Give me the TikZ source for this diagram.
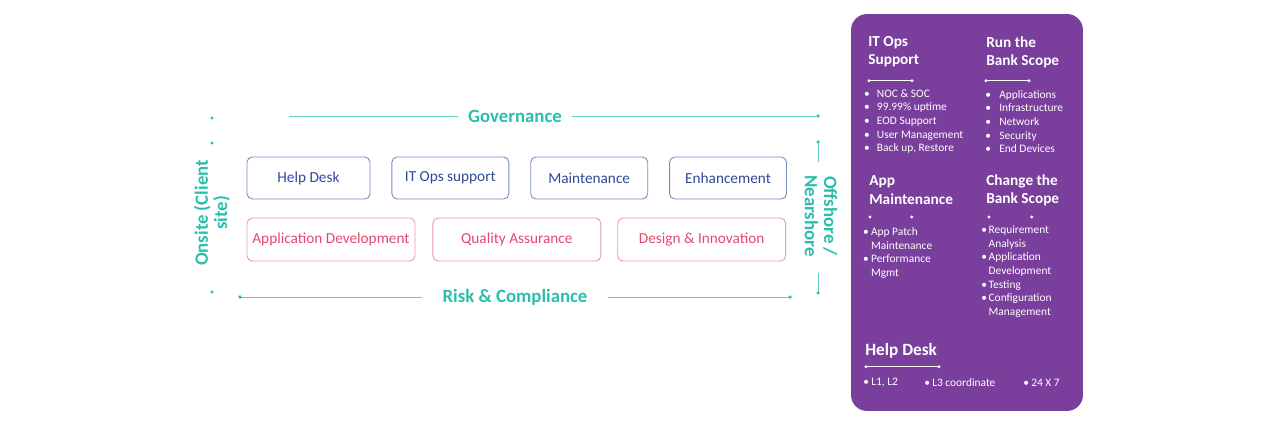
\documentclass[tikz,border=0pt]{standalone}
\usepackage{fontspec}
\setmainfont{Carlito}
\usetikzlibrary{positioning}
\definecolor{tealc}{RGB}{43,190,171}
\definecolor{bluet}{RGB}{46,72,150}
\definecolor{blueb}{RGB}{120,138,196}
\definecolor{redt}{RGB}{228,72,108}
\definecolor{redb}{RGB}{238,150,170}
\definecolor{purp}{RGB}{122,62,157}
\newcommand{\itm}[2][7.3pt]{\makebox[#1][l]{\textbullet}#2}

\begin{document}
\begin{tikzpicture}[x=0.02cm,y=-0.02cm,
  blubox/.style={draw=blueb,text=bluet,line width=0.5pt,rounded corners=3pt,minimum width=2.34cm,minimum height=0.84cm,inner sep=2pt,font=\fontsize{8.7}{10}\selectfont},
  redbox/.style={draw=redb,text=redt,line width=0.5pt,rounded corners=3pt,minimum width=3.36cm,minimum height=0.86cm,inner sep=2pt,font=\fontsize{8.7}{10}\selectfont},
  frtxt/.style={text=tealc,font=\fontsize{10.7}{11}\selectfont\bfseries,inner ysep=2pt},
  frline/.style={draw=tealc!75,line width=0.45pt},
  panel/.style={fill=purp,rounded corners=0.32cm,minimum width=4.64cm,minimum height=7.94cm},
  phead/.style={text=white,anchor=west,align=left,inner sep=0pt,font=\fontsize{8.7}{10.4}\selectfont\bfseries},
  plist/.style={text=white,anchor=west,align=left,inner sep=0pt,font=\fontsize{6.5}{7.8}\selectfont},
  sepline/.style={draw=white,line width=0.4pt}]
\useasboundingbox (0,0) rectangle (1281,435);

% left side: services
\node[blubox,minimum width=2.46cm] (hd) at (308.5,178) {Help Desk};
\node[blubox,right=0.42cm of hd] (ops) {IT Ops support};
\node[blubox,right=0.42cm of ops] (mnt) {Maintenance};
\node[blubox,right=0.42cm of mnt] (enh) {Enhancement};
\node[redbox] (ad) at (331,239.5) {Application Development};
\node[redbox,right=0.34cm of ad] (qa) {Quality Assurance};
\node[redbox,right=0.32cm of qa] (di) {Design \& Innovation};

% frame
\node[frtxt,inner xsep=0.2cm] (gov) at (515,116) {Governance};
\node[frtxt,inner xsep=0.4cm] (risk) at (515,297) {Risk \& Compliance};
\node[frtxt,rotate=90,align=center] (onsite) at (212,213) {Onsite (Client\\site)};
\node[frtxt,rotate=-90,align=center] (off) at (821,216) {Offshore /\\Nearshore};
\coordinate (gl) at (289,116); \coordinate (gr) at (818,116);
\coordinate (rl) at (240,297); \coordinate (rr) at (790,297);
\coordinate (ot) at (818,142); \coordinate (ob) at (818,293);
\draw[frline] (gl)--(gov); \draw[frline] (gov)--(gr);
\draw[frline] (rl)--(risk); \draw[frline] (risk)--(rr);
\draw[frline] (ot)--++(0,20); \draw[frline] (ob)--++(0,-20);
\foreach \p in {gr,rl,rr,ot,ob} \fill[tealc] (\p) circle (1pt);
\foreach \yy in {118,143,292} \fill[tealc] (212,\yy) circle (0.9pt);

% right side: scope panel
\node[panel] (pnl) at (967,212.5) {};
\node[phead] (opsh) at (868,52) {IT Ops\\Support};
\node[phead] (runh) at (986,52) {Run the\\Bank Scope};
\node[phead] (apph) at (869,190) {App\\Maintenance};
\node[phead] (chgh) at (986,190) {Change the\\Bank Scope};
\node[phead,font=\fontsize{9.8}{11}\selectfont\bfseries] (hlph) at (865,351) {Help Desk};
\draw[sepline] (869,80.7)--(912,80.7); \draw[sepline] (986,80.7)--(1029,80.7);
\draw[sepline] (866,366.7)--(939,366.7);
\foreach \p in {(869,80.7),(912,80.7),(986,80.7),(1029,80.7),(866,366.7),(939,366.7),(870,217),(911.7,217),(989,217),(1031.7,217)}
  \fill[white] \p circle (0.9pt);
\node[plist] (opsl) at (863.8,121.5) {\itm{NOC \& SOC}\\\itm{99.99\% uptime}\\\itm{EOD Support}\\\itm{User Management}\\\itm{Back up, Restore}};
\node[plist] (runl) at (985.1,121.5) {\itm[7.9pt]{Applications}\\\itm[7.9pt]{Infrastructure}\\\itm[7.9pt]{Network}\\\itm[7.9pt]{Security}\\\itm[7.9pt]{End Devices}};
\node[plist] (appl) at (862.8,253) {\itm[4.5pt]{App Patch}\\\hspace*{4.5pt}Maintenance\\\itm[4.5pt]{Performance}\\\hspace*{4.5pt}Mgmt};
\node[plist] (chgl) at (981.1,271.5) {\itm[4.1pt]{Requirement}\\\hspace*{4.1pt}Analysis\\\itm[4.1pt]{Application}\\\hspace*{4.1pt}Development\\\itm[4.1pt]{Testing}\\\itm[4.1pt]{Configuration}\\\hspace*{4.1pt}Management};
\node[plist] (l12) at (863,383) {\itm[4.5pt]{L1, L2}};
\node[plist] (l3) at (924,383) {\itm[4.5pt]{L3 coordinate}};
\node[plist] (h24) at (1023,383) {\itm[4.5pt]{24 X 7}};
\end{tikzpicture}
\end{document}
